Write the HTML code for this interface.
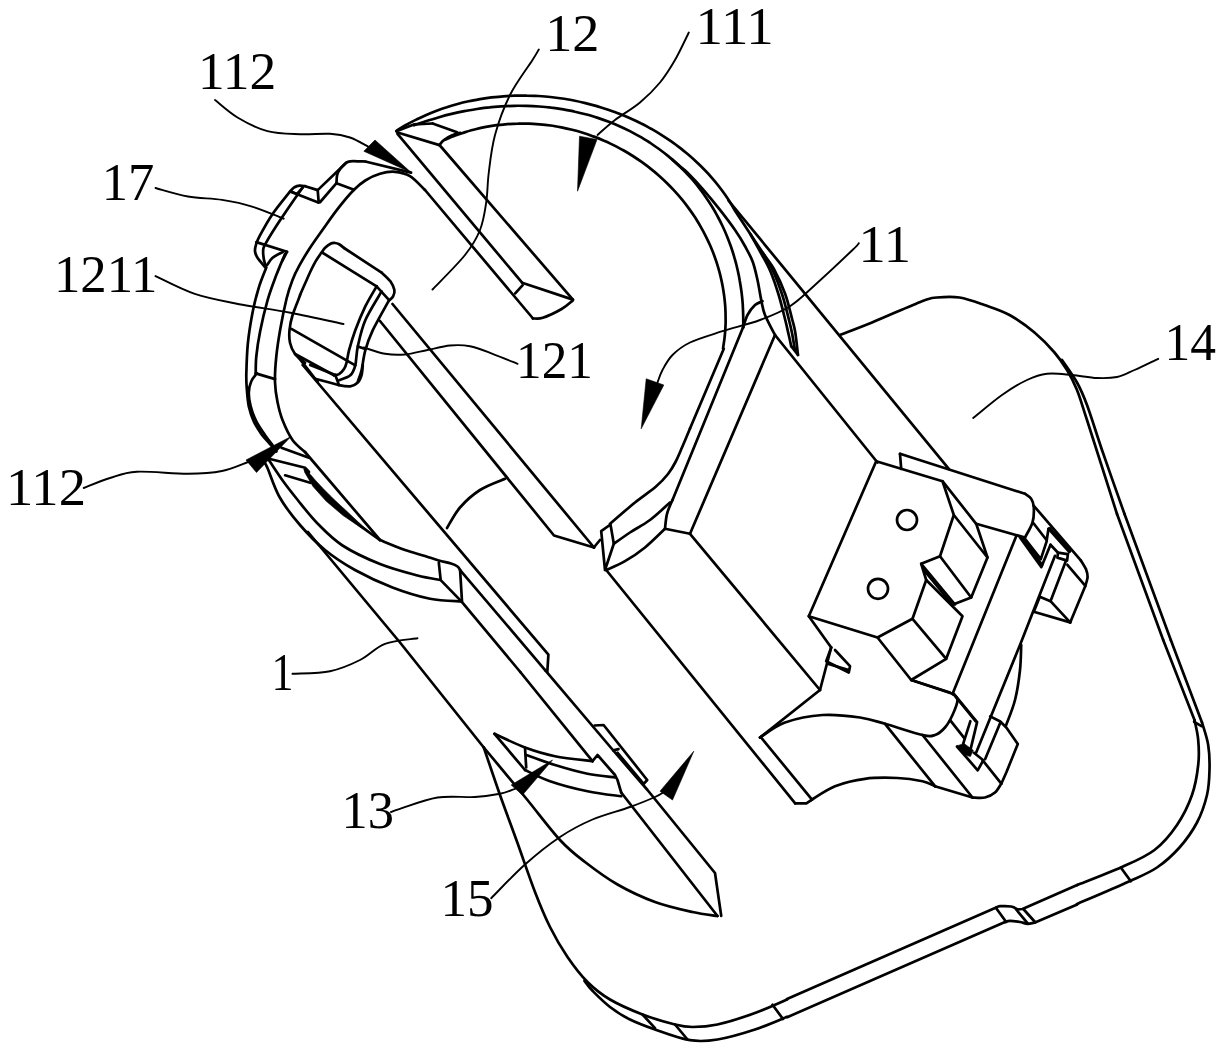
<!DOCTYPE html>
<html><head><meta charset="utf-8"><title>Figure</title>
<style>html,body{margin:0;padding:0;background:#fff}svg{display:block}.m{fill:none;stroke:#000;stroke-width:2.7;stroke-linecap:round;stroke-linejoin:round}.t{fill:none;stroke:#000;stroke-width:1.9;stroke-linecap:round;stroke-linejoin:round}.f{fill:#000;stroke:#000;stroke-width:0.6;stroke-linejoin:miter}text{font-family:"Liberation Serif","Noto Serif CJK SC",serif;fill:#000}</style></head>
<body>
<svg width="1229" height="1056" viewBox="0 0 1229 1056">
<rect width="1229" height="1056" fill="#fff"/>
<g class="m">
<path d="M317.7 190.1 L305.2 186.2"/>
<path d="M305.2 186.2 C304.2 186.1 301.3 185.4 299.5 185.6 C297.7 185.8 296.1 186.3 294.5 187.2 C292.9 188.2 290.9 190.7 290.1 191.4"/>
<path d="M290.1 191.4 C287.2 195.1 277.6 206.6 272.6 213.9 C267.6 221.2 262.8 230.1 260.1 235.2 C257.3 240.3 256.9 241.9 256.0 244.6 C255.2 247.3 254.8 249.3 255.0 251.5 C255.3 253.7 255.9 255.2 257.5 257.8 C259.2 260.4 263.8 265.6 265.1 267.2"/>
<path d="M302.7 187.3 C299.1 192.5 287.5 209.0 281.4 218.3 C275.2 227.6 268.7 238.0 265.7 243.4 C262.7 248.7 263.5 247.6 263.2 250.3 C262.9 252.9 263.4 256.4 263.8 259.0 C264.2 261.6 265.4 264.8 265.7 265.9"/>
<path d="M291.4 192.0 L318.3 202.6"/>
<path d="M317.7 190.1 L318.7 202.6"/>
<path d="M292.0 192.0 L297.0 193.9 L302.7 187.6"/>
<path d="M317.7 190.1 L346.5 162.5"/>
<path d="M346.5 162.5 C347.1 162.3 348.4 161.5 350.3 161.3 C352.2 161.1 355.3 161.2 357.8 161.3 C360.3 161.3 364.1 161.5 365.3 161.5"/>
<path d="M365.3 161.5 L411.1 172.6"/>
<path d="M320.2 202.0 L336.5 183.2"/>
<path d="M336.5 183.2 C336.6 181.9 336.5 177.5 337.1 175.1 C337.7 172.7 338.9 170.7 340.3 168.8 C341.6 166.9 344.4 164.4 345.3 163.5"/>
<path d="M336.5 183.2 L354.0 189.8"/>
<path d="M256.3 242.1 L287.0 251.8"/>
<path d="M266.9 265.3 C267.9 264.0 270.0 260.0 272.6 257.8 C275.2 255.6 280.9 253.1 282.6 252.1"/>
<path d="M287.0 251.8 L282.6 260.3"/>
<path d="M266.3 267.5 C265.1 270.9 261.1 280.1 258.8 287.6 C256.5 295.1 254.3 303.3 252.5 312.7 C250.7 322.1 248.8 333.6 247.8 344.0 C246.8 354.4 246.5 367.3 246.3 375.0 C246.2 382.7 246.5 384.8 246.9 390.0 C247.3 395.2 247.7 401.2 248.8 406.4 C250.0 411.6 251.7 416.8 253.8 421.4 C255.9 426.0 258.6 430.1 261.3 433.9 C264.0 437.7 267.5 441.1 270.0 444.0 C272.5 446.9 275.3 450.2 276.4 451.5"/>
<path d="M285.1 253.8 C283.7 257.3 279.3 267.3 276.3 275.1 C273.4 282.8 270.3 290.7 267.6 300.1 C264.9 309.5 261.9 322.1 260.1 331.5 C258.2 340.9 257.0 349.5 256.3 356.5 C255.6 363.5 255.8 370.6 255.7 373.4"/>
<path d="M255.7 373.4 L275.1 379.1"/>
<path d="M256.9 373.1 C256.0 374.5 252.6 378.1 251.3 381.3 C249.9 384.5 248.9 388.4 248.8 392.6 C248.7 396.7 249.4 401.5 250.7 406.4 C251.9 411.2 253.9 416.6 256.3 421.4 C258.7 426.2 262.4 431.2 265.1 435.2 C267.8 439.1 271.3 443.5 272.6 445.2"/>
<path d="M425.0 190.0 C422.5 187.7 415.0 179.3 410.0 176.2 C405.0 173.2 400.0 172.2 395.0 171.8 C390.0 171.3 384.9 172.3 380.0 173.8 C375.1 175.2 369.6 177.8 365.3 180.5 C361.0 183.2 358.6 185.1 354.0 189.8 C349.4 194.5 343.0 202.1 337.7 208.9 C332.4 215.7 326.9 223.8 322.1 230.5 C317.3 237.2 312.9 243.3 309.1 249.2 C305.3 255.1 302.1 260.6 299.3 265.7 C296.5 270.8 294.6 274.5 292.5 280.0 C290.4 285.5 288.6 290.3 286.6 298.5 C284.6 306.7 282.0 319.3 280.3 329.0 C278.6 338.7 277.2 347.7 276.3 356.5 C275.4 365.3 274.8 374.4 275.0 382.0 C275.2 389.6 276.2 395.7 277.5 402.0 C278.8 408.3 280.0 413.7 282.5 420.0 C285.0 426.3 288.8 434.7 292.5 440.0 C296.2 445.3 302.9 450.0 305.0 452.0"/>
<path d="M305.0 452.0 L380.0 540.0"/>
<path d="M344.0 248.0 C343.2 247.4 340.7 245.1 339.2 244.3 C337.7 243.5 336.4 243.1 335.0 243.0 C333.6 242.9 332.6 242.7 331.0 243.5 C329.4 244.3 326.9 246.2 325.4 247.6 C323.9 249.0 323.7 249.4 322.1 251.7 C320.5 254.0 317.6 258.0 315.6 261.4 C313.6 264.8 311.9 268.4 310.2 272.0 C308.5 275.6 307.0 279.2 305.3 283.0 C303.6 286.8 300.9 293.0 300.0 295.0 C299.1 297.0 301.4 291.7 300.2 295.0 C299.0 298.3 294.4 309.2 292.6 315.0 C290.8 320.8 289.9 325.4 289.5 330.0 C289.1 334.6 289.1 338.7 290.0 342.7 C290.9 346.7 292.5 350.6 295.0 354.0 C297.5 357.4 303.3 361.3 305.0 362.8"/>
<path d="M295.1 354.0 L334.0 375.3"/>
<path d="M334.0 375.3 C334.8 375.1 337.3 375.1 339.0 374.1 C340.7 373.0 342.8 370.9 344.0 369.0 C345.3 367.2 345.7 365.9 346.5 362.8 C347.4 359.6 347.6 355.7 349.0 350.3 C350.5 344.8 352.6 337.5 355.3 330.2 C358.0 322.9 361.8 313.7 365.3 306.4 C368.9 299.1 374.7 289.7 376.6 286.3"/>
<path d="M322.1 252.5 L376.6 286.3"/>
<path d="M344.0 248.0 L381.6 272.6"/>
<path d="M381.6 272.6 C383.1 274.0 388.2 278.4 390.4 281.3 C392.5 284.3 393.9 287.6 394.4 290.1 C394.8 292.6 394.0 294.7 393.1 296.4 C392.3 298.1 389.8 299.7 389.1 300.4"/>
<path d="M291.4 328.9 L355.3 365.3"/>
<path d="M381.6 291.4 C378.9 296.2 369.3 311.0 365.3 320.2 C361.3 329.4 359.5 339.0 357.8 346.5 C356.1 354.0 356.5 360.5 355.3 365.3 C354.0 370.1 353.0 372.8 350.3 375.3 C347.6 377.8 340.9 379.5 339.0 380.3"/>
<path d="M389.1 300.1 C386.4 305.1 376.8 321.8 372.8 330.2 C368.9 338.6 367.2 343.6 365.3 350.3 C363.4 356.9 362.8 365.1 361.6 370.3 C360.3 375.5 358.4 379.7 357.8 381.6"/>
<path d="M376.6 286.3 L389.1 300.1"/>
<path d="M357.8 346.5 L365.3 349.0"/>
<path d="M315.2 378.8 C319.2 379.8 333.2 383.8 339.0 385.1 C344.9 386.3 347.2 386.7 350.3 386.3 C353.4 385.9 355.9 384.4 357.8 382.5 C359.7 380.7 360.7 377.9 361.6 375.0 C362.4 372.1 362.6 366.7 362.8 365.0"/>
<path d="M310.2 365.0 L335.3 375.0"/>
<path d="M335.3 375.0 L339.0 385.1"/>
<path d="M298.9 357.8 L317.7 382.0"/>
<path d="M397.5 133.8 L522.1 282.7"/>
<path d="M425.0 190.0 L533.0 318.5"/>
<path d="M439.5 145.0 L572.9 299.6"/>
<path d="M522.1 282.7 L572.9 299.6"/>
<path d="M522.7 285.2 L515.2 293.4"/>
<path d="M532.8 318.4 C534.4 318.3 538.0 319.4 542.8 317.8 C547.6 316.2 556.6 311.9 561.6 309.0 C566.6 306.1 571.0 301.7 572.9 300.3"/>
<path d="M397.5 132.5 L439.5 145.1"/>
<path d="M439.5 145.1 C440.2 144.2 441.7 141.7 443.9 140.1 C446.1 138.4 450.0 136.3 452.7 135.1 C455.4 133.8 458.9 133.2 460.2 132.8"/>
<path d="M396.3 131.3 L413.8 124.4 L432.6 123.5"/>
<path d="M432.6 123.5 L457.1 132.3"/>
<path d="M396.7 130.6 C398.2 129.7 402.8 126.8 406.0 125.0 C409.1 123.2 412.4 121.5 415.7 119.9 C418.9 118.2 422.3 116.7 425.7 115.2 C429.1 113.7 432.5 112.3 436.0 111.0 C439.5 109.7 443.1 108.4 446.7 107.3 C450.3 106.1 453.9 105.0 457.6 104.0 C461.2 103.0 465.0 102.1 468.7 101.3 C472.4 100.5 476.2 99.8 480.0 99.1 C483.8 98.5 487.7 97.9 491.5 97.4 C495.4 97.0 499.3 96.6 503.2 96.3 C507.1 96.0 511.0 95.8 514.9 95.7 C518.8 95.6 522.8 95.5 526.7 95.6 C530.6 95.6 534.6 95.8 538.5 96.0 C542.5 96.3 546.4 96.6 550.3 97.0 C554.3 97.4 558.2 97.9 562.1 98.5 C566.0 99.1 569.9 99.8 573.8 100.5 C577.7 101.3 581.6 102.2 585.4 103.1 C589.3 104.0 593.1 105.0 596.9 106.1 C600.7 107.3 604.5 108.4 608.2 109.7 C611.9 111.0 615.6 112.3 619.3 113.8 C622.9 115.2 626.6 116.7 630.1 118.3 C633.7 119.9 637.2 121.5 640.7 123.3 C644.2 125.0 647.6 126.9 651.0 128.7 C654.3 130.6 657.7 132.6 660.9 134.6 C664.2 136.7 667.4 138.8 670.5 140.9 C673.6 143.1 676.7 145.3 679.7 147.6 C682.7 149.9 685.6 152.3 688.5 154.7 C691.3 157.1 694.1 159.6 696.8 162.2 C699.5 164.7 702.2 167.3 704.7 170.0 C707.3 172.6 709.7 175.3 712.1 178.1 C714.5 180.8 716.8 183.6 719.0 186.5 C721.2 189.3 723.3 192.2 725.3 195.1 C727.4 198.1 729.5 201.4 731.1 204.0 C732.8 206.7 732.0 206.0 735.2 211.0 C738.4 216.0 745.7 227.0 750.3 234.0 C754.9 241.0 758.9 247.0 762.8 252.8 C766.7 258.6 770.2 262.1 773.9 269.0 C777.6 275.9 782.2 285.7 785.2 294.0 C788.2 302.3 790.4 312.7 792.1 319.0 C793.8 325.3 794.2 326.0 795.2 332.0 C796.2 338.0 797.5 351.2 798.0 355.0"/>
<path d="M750.3 234.0 C752.2 237.3 758.1 247.8 761.5 254.0 C764.9 260.2 767.6 264.5 770.5 271.5 C773.4 278.5 776.5 287.8 779.0 296.0 C781.5 304.2 783.9 314.7 785.5 321.0 C787.1 327.3 787.5 329.8 788.5 334.0 C789.5 338.2 790.8 344.2 791.2 346.2"/>
<path d="M762.8 252.8 C764.4 255.7 769.2 263.0 772.5 270.0 C775.8 277.0 779.5 286.7 782.3 295.0 C785.0 303.3 787.4 313.7 789.0 320.0 C790.6 326.3 791.0 327.9 792.0 333.0 C793.0 338.1 794.5 347.6 795.0 350.5"/>
<path d="M791.2 346.2 L798.0 355.0"/>
<path d="M414.1 125.3 C416.2 124.6 422.4 122.3 426.5 121.0 C430.7 119.6 434.9 118.4 439.1 117.2 C443.2 116.0 447.4 114.9 451.6 113.9 C455.8 112.9 460.0 112.0 464.3 111.2 C468.5 110.4 472.7 109.7 476.9 109.0 C481.1 108.4 485.3 107.8 489.5 107.4 C493.7 106.9 497.9 106.6 502.0 106.3 C506.2 106.1 510.4 105.9 514.5 105.8 C518.7 105.7 522.8 105.8 526.9 105.9 C531.0 106.0 535.1 106.2 539.2 106.5 C543.3 106.8 547.3 107.2 551.3 107.7 C555.3 108.1 559.3 108.7 563.3 109.4 C567.2 110.1 571.1 110.8 575.0 111.7 C578.9 112.5 582.8 113.5 586.6 114.5 C590.4 115.5 594.1 116.7 597.8 117.9 C601.5 119.1 605.2 120.4 608.8 121.8 C612.5 123.2 616.0 124.6 619.5 126.2 C623.1 127.8 626.5 129.4 629.9 131.1 C633.3 132.9 636.7 134.7 640.0 136.6 C643.3 138.5 646.5 140.5 649.7 142.5 C652.8 144.6 655.9 146.8 659.0 149.0 C662.0 151.2 665.0 153.5 667.9 155.9 C670.8 158.3 673.6 160.7 676.3 163.2 C679.1 165.8 681.8 168.4 684.4 171.0 C687.0 173.7 689.5 176.4 692.0 179.2 C694.4 182.0 696.8 184.9 699.1 187.9 C701.4 190.8 703.6 193.8 705.7 196.9 C707.8 199.9 709.9 203.1 711.8 206.2 C713.8 209.4 715.7 212.7 717.4 216.0 C719.2 219.3 720.9 222.6 722.5 226.0 C724.1 229.4 725.7 232.9 727.1 236.4 C728.5 239.9 729.8 243.4 731.1 247.0 C732.3 250.6 733.5 254.2 734.5 257.9 C735.6 261.6 736.6 265.3 737.4 269.0 C738.3 272.8 739.1 276.6 739.7 280.4 C740.4 284.2 741.0 288.1 741.5 291.9 C742.0 295.8 742.4 299.7 742.7 303.6 C742.9 307.6 743.1 311.5 743.2 315.5 C743.3 319.5 743.3 325.5 743.3 327.5"/>
<path d="M445.6 139.6 C447.2 138.9 452.0 136.8 455.3 135.6 C458.6 134.3 461.9 133.2 465.3 132.1 C468.7 131.1 472.1 130.1 475.5 129.3 C479.0 128.4 482.4 127.6 485.9 126.9 C489.4 126.3 493.0 125.7 496.5 125.2 C500.1 124.8 503.6 124.4 507.2 124.1 C510.8 123.8 514.4 123.6 518.0 123.6 C521.6 123.5 525.2 123.5 528.9 123.6 C532.5 123.7 536.1 124.0 539.7 124.3 C543.4 124.6 547.0 125.0 550.6 125.5 C554.2 126.0 557.8 126.7 561.4 127.4 C565.0 128.1 568.6 128.9 572.1 129.8 C575.7 130.7 579.2 131.7 582.8 132.8 C586.3 133.9 589.8 135.1 593.2 136.4 C596.7 137.6 600.1 139.0 603.5 140.5 C606.9 141.9 610.2 143.5 613.5 145.1 C616.8 146.8 620.1 148.5 623.3 150.3 C626.5 152.1 629.7 154.0 632.8 156.0 C635.9 158.0 639.0 160.1 642.0 162.2 C645.0 164.3 647.9 166.6 650.8 168.9 C653.7 171.1 656.5 173.5 659.3 176.0 C662.0 178.4 664.7 180.9 667.3 183.5 C669.9 186.1 672.5 188.7 674.9 191.4 C677.4 194.1 679.8 196.9 682.1 199.7 C684.4 202.5 686.6 205.4 688.8 208.4 C690.9 211.3 693.0 214.3 695.0 217.3 C696.9 220.4 698.8 223.4 700.6 226.6 C702.4 229.7 704.1 232.9 705.7 236.1 C707.3 239.3 708.9 242.6 710.3 245.8 C711.7 249.1 713.1 252.4 714.3 255.8 C715.5 259.1 716.7 262.5 717.7 265.9 C718.7 269.3 719.7 272.7 720.5 276.1 C721.3 279.5 722.1 283.0 722.7 286.4 C723.3 289.9 723.9 293.4 724.3 296.8 C724.7 300.3 725.1 303.8 725.3 307.3 C725.5 310.7 725.6 314.2 725.6 317.7 C725.7 321.1 725.6 324.6 725.4 328.1 C725.2 331.5 724.9 335.0 724.5 338.4 C724.1 341.8 723.2 346.9 723.0 348.6"/>
<path d="M672.0 159.3 C673.3 160.5 677.4 164.0 680.0 166.3 C682.6 168.6 684.0 169.2 687.8 173.0 C691.6 176.8 697.2 182.7 702.6 188.9 C708.0 195.1 714.8 203.3 720.2 210.2 C725.6 217.1 731.0 224.2 735.2 230.3 C739.4 236.4 742.3 241.2 745.2 246.5 C748.1 251.8 750.8 256.4 752.8 262.0 C754.8 267.6 756.1 273.7 757.5 280.0 C758.9 286.3 760.0 294.2 761.2 300.0 C762.5 305.8 762.7 309.2 765.0 315.0 C767.3 320.8 773.3 331.7 775.0 335.0"/>
<path d="M728.5 200.5 L948.8 468.8"/>
<path d="M743.0 327.5 L672.5 500.0"/>
<path d="M775.0 335.0 L877.5 462.5"/>
<path d="M775.0 335.0 L690.0 533.8"/>
<path d="M743.0 327.5 C743.8 325.4 745.5 318.8 747.5 315.0 C749.5 311.2 752.5 307.3 755.0 305.0 C757.5 302.7 761.2 301.9 762.5 301.2"/>
<path d="M723.8 348.8 L690.0 428.5"/>
<path d="M690.0 428.5 C688.7 431.7 684.4 441.9 682.0 447.5 C679.6 453.1 677.8 457.6 675.5 462.0 C673.2 466.4 671.2 469.9 668.0 474.0 C664.8 478.1 661.5 481.8 656.0 486.5 C650.5 491.2 642.7 496.3 635.0 502.5 C627.3 508.7 614.2 520.2 610.0 523.8"/>
<path d="M672.5 500.0 C671.6 502.3 668.2 509.0 667.0 513.8 C665.8 518.5 665.3 526.2 665.0 528.8"/>
<path d="M670.0 502.5 C666.7 505.4 656.7 515.0 650.0 520.0 C643.3 525.0 636.0 528.5 630.0 532.5 C624.0 536.5 616.5 541.9 613.8 543.8"/>
<path d="M665.0 528.8 C661.7 531.9 651.7 542.1 645.0 547.5 C638.3 552.9 631.5 557.5 625.0 561.2 C618.5 565.0 609.4 568.5 606.2 570.0"/>
<path d="M665.0 528.8 L690.0 533.8"/>
<path d="M690.0 533.8 L820.0 690.0"/>
<path d="M606.2 570.0 L795.2 803.4"/>
<path d="M601.2 531.2 L610.5 524.5 L613.8 543.8 L605.0 570.0 L601.2 531.2"/>
<path d="M593.8 547.5 L600.0 540.0"/>
<path d="M392.5 304.0 L594.0 547.5"/>
<path d="M380.0 321.0 L554.0 535.5 L594.0 547.5"/>
<path d="M505.0 478.8 C500.8 480.6 487.5 485.2 480.0 490.0 C472.5 494.8 465.5 501.2 460.0 507.5 C454.5 513.8 449.2 524.6 447.0 528.0"/>
<path d="M302.7 365.0 L548.4 654.7 L547.3 672.0"/>
<path d="M460.1 570.1 L545.3 670.3"/>
<path d="M545.3 670.3 L615.0 752.5 L647.5 790.0 L715.0 873.0 L721.2 915.8"/>
<path d="M438.8 562.6 L440.7 580.1 L461.4 601.4"/>
<path d="M460.1 570.1 L462.0 601.4"/>
<path d="M461.4 601.4 L520.3 672.0"/>
<path d="M520.3 672.0 L592.5 761.2"/>
<path d="M264.4 462.7 C264.9 463.6 265.0 462.3 267.5 468.0 C270.0 473.7 274.1 487.5 279.5 497.0 C284.9 506.5 292.4 516.2 300.0 525.0 C307.6 533.8 315.8 542.5 325.0 550.0 C334.2 557.5 343.8 563.8 355.0 570.0 C366.2 576.2 380.0 582.7 392.5 587.5 C405.0 592.3 418.5 596.4 430.0 598.8 C441.5 601.1 456.2 601.0 461.4 601.4"/>
<path d="M268.8 460.0 C271.2 463.5 278.2 474.3 283.0 481.0 C287.8 487.7 291.9 492.8 297.7 500.0 C303.5 507.2 310.5 516.4 318.0 524.0 C325.5 531.6 332.2 538.8 342.5 545.5 C352.8 552.2 367.5 559.0 380.0 564.0 C392.5 569.0 407.4 572.8 417.5 575.5 C427.6 578.2 436.8 579.2 440.7 580.0"/>
<path d="M380.0 540.0 C384.2 541.7 397.5 547.3 405.0 550.0 C412.5 552.7 419.4 554.2 425.0 556.0 C430.6 557.8 434.5 559.2 438.8 560.5 C443.1 561.8 447.9 562.5 451.0 563.5 C454.1 564.5 456.0 565.4 457.5 566.5 C459.0 567.6 459.7 569.4 460.1 570.0"/>
<path d="M308.0 532.0 L400.0 642.5 L483.8 747.5"/>
<path d="M483.8 747.5 C490.6 755.8 512.3 781.6 525.0 797.0 C537.7 812.4 550.0 829.2 560.0 840.0 C570.0 850.8 575.4 854.6 585.0 862.0 C594.6 869.4 605.8 877.8 617.5 884.5 C629.2 891.2 642.5 897.4 655.0 902.0 C667.5 906.6 682.1 909.7 692.5 912.0 C702.9 914.3 713.3 915.3 717.5 916.0"/>
<path d="M494.5 733.8 C499.6 736.0 514.9 743.8 525.0 747.5 C535.1 751.2 543.8 754.0 555.0 756.2 C566.2 758.5 586.2 760.4 592.5 761.2"/>
<path d="M494.5 733.8 L525.0 770.0"/>
<path d="M525.0 747.5 L526.2 767.5"/>
<path d="M526.2 755.0 C531.0 756.7 544.8 761.9 555.0 765.0 C565.2 768.1 577.5 771.7 587.5 773.8 C597.5 775.8 610.4 776.9 615.0 777.5"/>
<path d="M525.0 770.0 C529.2 771.9 539.6 777.7 550.0 781.2 C560.4 784.8 575.6 788.8 587.5 791.2 C599.4 793.8 615.6 795.4 621.2 796.2"/>
<path d="M592.5 761.2 L597.5 755.0 L615.0 775.0 L617.5 780.0 L621.2 792.5"/>
<path d="M621.2 792.5 L717.5 916.0"/>
<path d="M594.6 725.5 L603.6 725.0 L647.2 780.0 L643.5 784.1"/>
<path d="M613.3 750.4 L618.5 749.1"/>
<path d="M617.4 752.7 L643.0 783.0"/>
<path d="M483.8 747.5 C486.5 755.4 494.4 779.1 500.0 795.0 C505.6 810.9 511.7 826.8 517.5 843.0 C523.3 859.2 529.6 878.0 535.0 892.0 C540.4 906.0 544.6 916.2 550.0 927.0 C555.4 937.8 561.2 947.8 567.5 957.0 C573.8 966.2 580.4 974.9 587.5 982.0 C594.6 989.1 600.8 994.1 610.0 999.5 C619.2 1004.9 631.7 1010.3 642.5 1014.5 C653.3 1018.7 666.7 1022.4 675.0 1024.5 C683.3 1026.6 685.4 1027.0 692.5 1027.0 C699.6 1027.0 707.1 1026.8 717.5 1024.5 C727.9 1022.2 743.4 1017.2 755.0 1013.0 C766.6 1008.8 781.7 1001.8 787.0 999.5"/>
<path d="M584.5 980.8 C585.8 982.4 588.2 986.4 592.5 990.8 C596.8 995.1 603.8 1002.2 610.0 1007.0 C616.2 1011.8 622.5 1015.8 630.0 1019.5 C637.5 1023.2 645.0 1026.0 655.0 1029.5 C665.0 1033.0 679.6 1038.6 690.0 1040.2 C700.4 1041.9 706.7 1041.3 717.5 1039.5 C728.3 1037.7 743.4 1033.3 755.0 1029.5 C766.6 1025.7 781.9 1018.9 787.2 1016.8"/>
<path d="M642.5 1014.5 L655.0 1028.2"/>
<path d="M675.0 1024.5 L687.5 1039.5"/>
<path d="M787.0 999.0 L996.2 907.5"/>
<path d="M996.2 907.5 C996.9 907.3 997.5 906.4 1000.0 906.2 C1002.5 906.1 1008.3 906.0 1011.2 906.5 C1014.2 907.0 1016.5 909.0 1017.5 909.5"/>
<path d="M1017.5 909.5 L1022.5 909.0 L1077.2 885.0"/>
<path d="M787.2 1017.2 L1005.0 922.0"/>
<path d="M1005.0 922.0 C1005.8 921.8 1007.5 920.8 1010.0 920.8 C1012.5 920.8 1017.1 921.5 1020.0 922.0 C1022.9 922.5 1025.0 923.7 1027.5 923.8 C1030.0 923.8 1033.8 922.7 1035.0 922.5"/>
<path d="M1035.0 922.5 L1077.2 904.5"/>
<path d="M772.5 1004.8 L783.0 1019.0"/>
<path d="M996.2 908.2 L1006.2 922.0"/>
<path d="M1016.2 909.5 L1027.5 923.2"/>
<path d="M1023.8 909.5 L1035.0 922.0"/>
<path d="M1077.2 885.0 C1084.7 882.0 1109.1 872.8 1122.0 867.0 C1134.9 861.2 1145.3 857.0 1154.5 850.0 C1163.7 843.0 1170.8 834.2 1177.0 825.0 C1183.2 815.8 1188.5 805.0 1192.0 795.0 C1195.5 785.0 1197.2 774.2 1198.2 765.0 C1199.3 755.8 1198.9 747.5 1198.2 740.0 C1197.6 732.5 1195.1 723.3 1194.5 720.0"/>
<path d="M1194.5 720.0 L1163.2 640.0"/>
<path d="M1077.0 904.0 C1085.8 900.2 1116.2 887.3 1129.5 881.2 C1142.8 875.2 1148.7 873.1 1157.0 867.5 C1165.3 861.9 1172.8 855.0 1179.5 847.5 C1186.2 840.0 1192.4 831.2 1197.0 822.5 C1201.6 813.8 1204.9 803.8 1207.0 795.0 C1209.1 786.2 1209.3 778.3 1209.5 770.0 C1209.7 761.7 1209.5 752.9 1208.2 745.0 C1207.0 737.1 1203.0 726.2 1202.0 722.5"/>
<path d="M1202.0 722.5 L1170.8 640.0"/>
<path d="M1120.8 867.5 L1130.8 881.2"/>
<path d="M840.0 335.0 C845.3 332.9 858.3 328.1 872.0 322.5 C885.7 316.9 911.2 305.4 922.0 301.2 C932.8 297.1 930.8 298.1 937.0 297.5 C943.2 296.9 951.6 296.2 959.5 297.5 C967.4 298.8 976.2 302.1 984.5 305.0 C992.8 307.9 1001.2 310.4 1009.5 315.0 C1017.8 319.6 1027.0 326.2 1034.5 332.5 C1042.0 338.8 1049.1 346.2 1054.5 352.5 C1059.9 358.8 1063.2 363.8 1067.0 370.0 C1070.8 376.2 1073.7 381.7 1077.0 390.0 C1080.3 398.3 1080.3 399.3 1087.0 420.0 C1093.7 440.7 1112.0 498.3 1117.0 514.0"/>
<path d="M1062.0 360.0 C1064.5 363.8 1072.8 375.0 1077.0 382.5 C1081.2 390.0 1082.8 393.8 1087.0 405.0 C1091.2 416.2 1095.8 431.8 1102.0 450.0 C1108.2 468.2 1120.8 503.3 1124.5 514.0"/>
<path d="M1117.0 514.0 L1163.2 640.0"/>
<path d="M1124.5 514.0 L1170.8 640.0"/>
<path d="M876.2 461.2 L808.8 616.2 L877.5 637.5 L912.5 618.8 L926.2 580.0 L921.2 563.8 L940.0 556.2 L953.8 515.0 L942.5 481.2 L876.2 461.2"/>
<path d="M942.5 481.2 L976.2 523.8 L987.5 557.5 L971.2 597.5 L955.0 603.8"/>
<path d="M953.8 515.0 L987.5 557.5"/>
<path d="M940.0 556.2 L971.2 597.5"/>
<path d="M921.2 563.8 L955.0 604.5"/>
<path d="M924.2 570.5 L953.0 605.5"/>
<path d="M926.2 580.0 L962.5 616.2 L946.2 658.8 L911.2 680.0 L877.5 637.5"/>
<path d="M912.5 618.8 L946.2 658.8"/>
<path d="M911.2 680.0 L950.0 692.5"/>
<path d="M897.0 520.0 a10.0 10.0 0 1 0 20.0 0 a10.0 10.0 0 1 0 -20.0 0"/>
<path d="M868.0 588.8 a10.0 10.0 0 1 0 20.0 0 a10.0 10.0 0 1 0 -20.0 0"/>
<path d="M900.0 453.8 L901.2 468.8"/>
<path d="M900.0 453.8 L1025.0 493.8"/>
<path d="M1025.0 493.8 C1026.0 494.6 1029.8 496.5 1031.2 498.8 C1032.7 501.0 1033.5 503.5 1033.8 507.5 C1034.0 511.5 1034.0 517.5 1032.5 522.5 C1031.0 527.5 1026.2 535.0 1025.0 537.5"/>
<path d="M1025.0 537.5 L976.2 523.8"/>
<path d="M1016.2 536.2 L952.5 694.0"/>
<path d="M808.8 616.2 L831.2 647.5"/>
<path d="M831.2 647.5 L820.0 690.0"/>
<path d="M831.2 647.5 L826.2 661.2 L848.8 672.5 L850.0 666.2 L835.0 650.0"/>
<path d="M827.5 663.8 L848.8 670.0"/>
<path d="M911.2 680.0 L952.5 693.8"/>
<path d="M820.0 690.0 L760.0 737.5"/>
<path d="M760.0 737.5 C764.2 735.0 774.6 726.2 785.0 722.5 C795.4 718.8 810.0 715.8 822.5 715.0 C835.0 714.2 849.6 716.0 860.0 717.5 C870.4 719.0 874.6 720.8 885.0 723.8 C895.4 726.7 914.2 733.1 922.5 735.0 C930.8 736.9 931.2 736.2 935.0 735.0 C938.8 733.8 942.1 730.8 945.0 727.5 C947.9 724.2 950.4 719.6 952.5 715.0 C954.6 710.4 957.5 703.5 957.5 700.0 C957.5 696.5 953.3 694.8 952.5 693.8"/>
<path d="M760.7 737.0 L812.0 799.6"/>
<path d="M795.2 803.4 L806.4 803.4 L812.0 799.6"/>
<path d="M811.2 800.0 C815.2 797.7 826.0 789.8 835.0 786.2 C844.0 782.7 854.6 780.1 865.0 778.8 C875.4 777.4 887.9 777.6 897.5 778.0 C907.1 778.4 916.2 779.9 922.5 781.2 C928.8 782.6 932.9 785.4 935.0 786.2"/>
<path d="M935.0 786.2 L972.5 797.5"/>
<path d="M972.5 797.5 C974.6 797.5 981.2 798.3 985.0 797.5 C988.8 796.7 992.3 794.8 995.0 792.5 C997.7 790.2 1000.2 785.2 1001.2 783.8"/>
<path d="M885.0 723.8 L935.0 786.2"/>
<path d="M922.5 735.0 L972.5 797.5"/>
<path d="M1021.2 645.0 C1021.0 649.2 1021.0 660.8 1020.0 670.0 C1019.0 679.2 1017.3 690.8 1015.0 700.0 C1012.7 709.2 1007.7 720.8 1006.2 725.0"/>
<path d="M304.9 469.5 C306.5 471.9 310.9 479.4 314.7 484.2 C318.5 489.0 322.8 493.4 327.7 498.2 C332.6 503.0 338.6 508.4 344.0 513.0 C349.4 517.6 354.3 521.5 360.3 526.0 C366.3 530.5 376.6 537.7 379.8 540.0"/>
<path d="M281.4 447.7 L308.9 457.7"/>
<path d="M270.0 459.0 L305.2 467.8 L309.0 472.0"/>
<path d="M285.1 475.3 L310.2 482.8"/>
<path d="M1033.8 505.8 L1080.8 560.3"/>
<path d="M1080.8 560.3 C1081.6 561.8 1084.9 566.6 1086.1 569.4 C1087.2 572.2 1087.7 574.2 1087.6 577.0 C1087.4 579.7 1085.7 584.5 1085.3 586.1"/>
<path d="M1085.3 586.1 L1070.2 622.4"/>
<path d="M1048.6 528.8 L1069.4 552.0"/>
<path d="M1049.8 528.2 L1070.2 550.9"/>
<path d="M1033.5 523.2 L1046.7 540.3 L1048.5 528.8"/>
<path d="M1019.8 537.3 L1041.4 567.1 L1050.5 544.8"/>
<path d="M1022.0 537.6 L1042.1 564.8"/>
<path d="M1025.0 538.8 L1040.8 559.1 L1046.8 540.9"/>
<path d="M1050.5 544.8 L1058.0 552.7 L1067.4 554.2"/>
<path d="M1058.0 552.7 L1057.4 557.6 L1067.1 560.6 L1067.9 554.2"/>
<path d="M1065.6 561.8 L1050.5 601.2"/>
<path d="M1067.4 564.8 L1084.5 584.8"/>
<path d="M1039.8 596.7 L1050.5 601.2 L1070.2 622.4"/>
<path d="M1033.8 611.8 L1070.2 622.4"/>
<path d="M1039.8 596.7 L1033.8 611.8"/>
<path d="M1055.0 555.8 L1020.6 643.5 L976.2 752.5"/>
<path d="M953.9 693.9 L977.1 722.1 L970.8 748.4"/>
<path d="M955.4 696.4 L975.6 721.2"/>
<path d="M970.4 721.2 L963.3 743.4"/>
<path d="M950.1 720.2 L963.9 737.7"/>
<path d="M957.0 746.5 L977.7 770.3 L983.3 760.3 L973.9 752.8"/>
<path d="M985.2 759.0 L1000.3 722.7"/>
<path d="M990.2 716.4 L1000.3 721.5 L1006.5 727.7 L1017.8 744.0 L1006.5 772.0 L1001.3 783.7"/>
<path d="M982.7 760.3 L1001.3 783.7"/>
<path d="M1194.1 721.8 L1201.5 726.2"/>
</g>
<g class="t">
<path d="M215.0 100.0 C218.8 102.9 228.8 112.3 237.5 117.5 C246.2 122.7 257.1 128.5 267.5 131.2 C277.9 134.0 289.6 133.8 300.0 134.2 C310.4 134.7 321.7 133.2 330.0 133.8 C338.3 134.3 343.5 135.3 350.0 137.5 C356.5 139.7 365.6 145.4 368.8 147.0"/>
<path d="M155.5 188.0 C160.9 189.4 176.9 194.5 188.0 196.5 C199.1 198.5 211.3 198.2 222.1 199.9 C233.0 201.6 242.7 203.6 252.9 206.8 C263.2 209.9 278.5 216.7 283.7 218.7"/>
<path d="M155.5 276.1 C162.1 279.1 180.8 289.2 194.8 293.9 C208.8 298.6 223.3 301.0 239.2 304.2 C255.2 307.3 273.1 309.4 290.5 312.7 C307.9 316.0 334.6 322.1 343.5 324.0"/>
<path d="M538.8 49.5 C537.7 51.2 537.3 52.4 532.5 60.0 C527.7 67.6 516.2 82.5 510.0 95.0 C503.8 107.5 498.5 122.1 495.0 135.0 C491.5 147.9 490.2 161.2 488.8 172.5 C487.3 183.8 487.7 192.9 486.2 202.5 C484.8 212.1 483.5 221.2 480.0 230.0 C476.5 238.8 472.9 245.1 465.0 255.0 C457.1 264.9 437.9 283.8 432.5 289.5"/>
<path d="M688.8 32.5 C686.5 37.1 679.8 51.7 675.0 60.0 C670.2 68.3 665.8 75.4 660.0 82.5 C654.2 89.6 647.5 96.2 640.0 102.5 C632.5 108.8 622.1 114.6 615.0 120.0 C607.9 125.4 600.4 132.5 597.5 135.0"/>
<path d="M858.8 243.2 C857.7 244.4 859.8 243.0 852.5 250.0 C845.2 257.0 825.4 275.6 815.0 285.0 C804.6 294.4 799.2 300.4 790.0 306.2 C780.8 312.1 771.2 315.8 760.0 320.0 C748.8 324.2 734.2 327.5 722.5 331.2 C710.8 335.0 698.3 338.5 690.0 342.5 C681.7 346.5 677.1 350.4 672.5 355.0 C667.9 359.6 665.0 365.4 662.5 370.0 C660.0 374.6 658.3 380.4 657.5 382.5"/>
<path d="M1158.2 358.8 C1154.3 360.6 1141.4 367.0 1134.5 370.0 C1127.6 373.0 1123.2 375.7 1117.0 377.0 C1110.8 378.3 1104.5 378.3 1097.0 378.0 C1089.5 377.7 1080.3 375.7 1072.0 375.0 C1063.7 374.3 1054.5 372.9 1047.0 373.8 C1039.5 374.6 1034.5 376.5 1027.0 380.0 C1019.5 383.5 1011.0 388.7 1002.0 395.0 C993.0 401.3 978.0 414.2 973.2 418.0"/>
<path d="M517.5 363.8 C513.3 362.1 500.4 356.7 492.5 353.8 C484.6 350.8 477.1 347.6 470.0 346.2 C462.9 344.9 457.1 344.9 450.0 345.5 C442.9 346.1 435.0 348.5 427.5 350.0 C420.0 351.5 412.1 353.9 405.0 354.5 C397.9 355.1 391.9 354.9 385.0 353.8 C378.1 352.6 367.3 348.5 363.8 347.5"/>
<path d="M83.7 488.0 C88.1 486.3 101.2 480.7 110.0 478.0 C118.8 475.3 123.7 472.4 136.7 471.7 C149.7 471.0 173.8 473.9 188.0 473.8 C202.2 473.7 212.0 473.0 222.0 471.0 C232.0 469.0 243.7 463.5 248.0 462.0"/>
<path d="M292.5 673.8 C298.8 673.3 318.8 673.5 330.0 671.2 C341.2 669.0 350.8 664.6 360.0 660.0 C369.2 655.4 375.4 647.4 385.0 643.8 C394.6 640.1 412.1 639.2 417.5 638.2"/>
<path d="M391.0 812.0 C392.5 811.5 392.2 811.2 400.0 808.8 C407.8 806.3 425.0 799.5 437.5 797.5 C450.0 795.5 464.6 797.6 475.0 797.0 C485.4 796.4 493.3 795.1 500.0 793.8 C506.7 792.4 512.5 789.6 515.0 788.8"/>
<path d="M491.2 898.2 C496.9 892.6 513.5 874.7 525.0 864.5 C536.5 854.3 548.8 844.5 560.0 837.0 C571.2 829.5 580.8 824.5 592.5 819.5 C604.2 814.5 619.6 810.8 630.0 807.0 C640.4 803.2 649.4 799.5 655.0 797.0 C660.6 794.5 662.3 792.8 663.8 792.0"/>
</g>
<g class="f">
<path d="M363.8 151.2 L375.0 140.0 L411.2 172.5 Z"/>
<path d="M579.5 136.2 L597.0 139.5 L577.5 191.2 Z"/>
<path d="M646.2 378.8 L663.8 385.0 L641.2 428.8 Z"/>
<path d="M246.0 460.0 L256.5 472.5 L291.0 436.5 Z"/>
<path d="M511.2 785.0 L522.5 795.0 L552.5 760.0 Z"/>
<path d="M660.0 791.2 L672.5 800.0 L693.8 751.2 Z"/>
<path d="M305.5 468.5 C307.4 470.8 312.8 477.4 317.0 482.0 C321.2 486.6 325.7 491.2 330.5 496.0 C335.3 500.8 340.9 505.8 346.0 510.5 C351.1 515.2 356.7 520.7 361.0 524.5 C365.3 528.3 370.2 532.0 372.0 533.5 L360 527 L343 515.5 L326 501 L313 486.5 L304.5 472 Z"/>
<path d="M957.0 745.9 L963.9 743.4 L973.3 750.3 L970.4 756.5 L965.2 755.0 Z"/>
</g>
<text x="198.1" y="89.0" font-size="53" textLength="78.3" lengthAdjust="spacingAndGlyphs">112</text>
<text x="545.2" y="51.3" font-size="53" textLength="54.3" lengthAdjust="spacingAndGlyphs">12</text>
<text x="695.5" y="44.4" font-size="53" textLength="78.3" lengthAdjust="spacingAndGlyphs">111</text>
<text x="858.5" y="261.5" font-size="53" textLength="52.5" lengthAdjust="spacingAndGlyphs">11</text>
<text x="1164.5" y="360.0" font-size="53" textLength="51.5" lengthAdjust="spacingAndGlyphs">14</text>
<text x="101.8" y="200.0" font-size="53" textLength="52.6" lengthAdjust="spacingAndGlyphs">17</text>
<text x="53.9" y="292.2" font-size="53" textLength="103.6" lengthAdjust="spacingAndGlyphs">1211</text>
<text x="516.1" y="378.0" font-size="53" textLength="76.9" lengthAdjust="spacingAndGlyphs">121</text>
<text x="6.1" y="505.0" font-size="53" textLength="79.9" lengthAdjust="spacingAndGlyphs">112</text>
<text x="271.5" y="690.0" font-size="53" textLength="22.0" lengthAdjust="spacingAndGlyphs">1</text>
<text x="341.5" y="827.6" font-size="53" textLength="52.5" lengthAdjust="spacingAndGlyphs">13</text>
<text x="440.5" y="916.4" font-size="53" textLength="53.1" lengthAdjust="spacingAndGlyphs">15</text>
</svg>
</body></html>
